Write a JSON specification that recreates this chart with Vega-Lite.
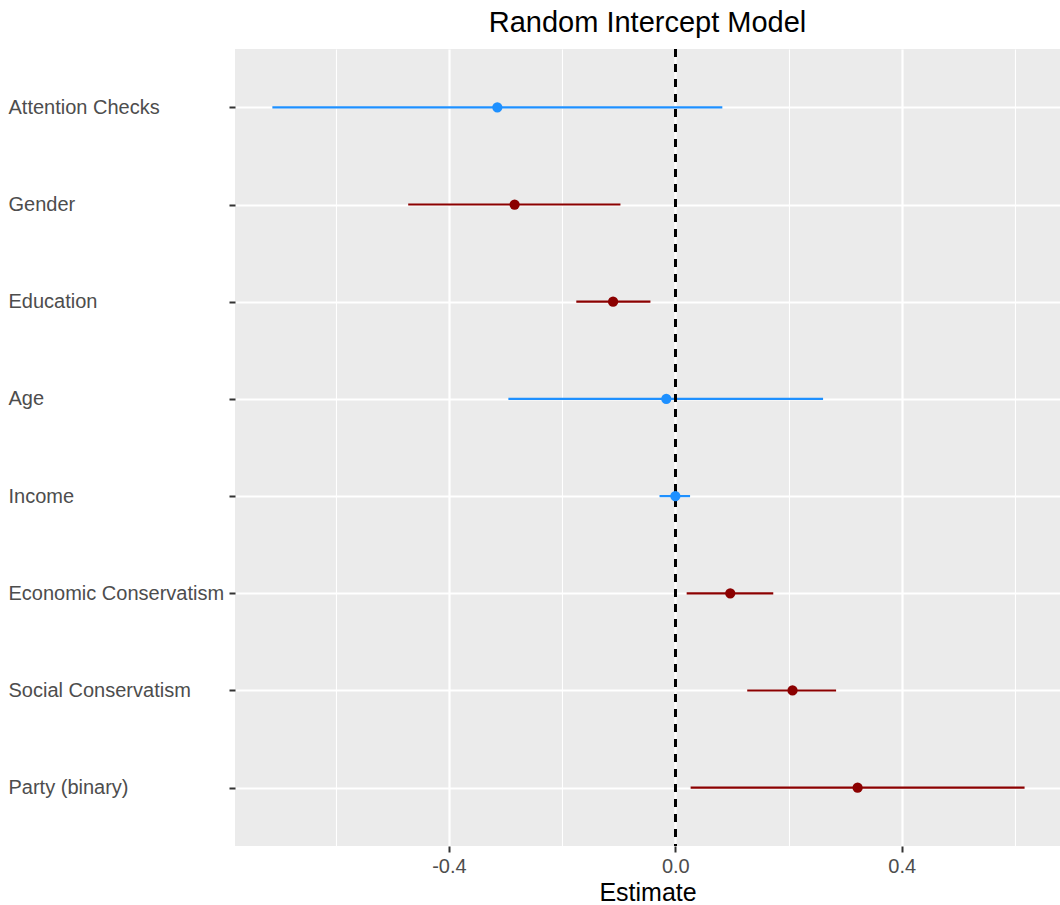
{
  "$schema": "https://vega.github.io/schema/vega-lite/v6.json",
  "width": 825,
  "height": 797,
  "autosize": {"type": "none"},
  "padding": {"left": 235, "top": 49, "right": 0, "bottom": 59},
  "background": "white",
  "title": {
    "text": "Random Intercept Model",
    "font": "Liberation Sans",
    "fontSize": 29,
    "fontWeight": "normal",
    "color": "black",
    "anchor": "middle",
    "offset": 10
  },
  "config": {
    "view": {"fill": "#EBEBEB", "stroke": null},
    "font": "Liberation Sans"
  },
  "data": {
    "values": [
      {"term": "Attention Checks", "estimate": -0.3145, "lo": -0.712, "hi": 0.083, "significant": "no"},
      {"term": "Gender", "estimate": -0.284, "lo": -0.472, "hi": -0.097, "significant": "yes"},
      {"term": "Education", "estimate": -0.110, "lo": -0.175, "hi": -0.044, "significant": "yes"},
      {"term": "Age", "estimate": -0.016, "lo": -0.295, "hi": 0.261, "significant": "no"},
      {"term": "Income", "estimate": 0.000, "lo": -0.028, "hi": 0.026, "significant": "no"},
      {"term": "Economic Conservatism", "estimate": 0.097, "lo": 0.020, "hi": 0.173, "significant": "yes"},
      {"term": "Social Conservatism", "estimate": 0.207, "lo": 0.127, "hi": 0.284, "significant": "yes"},
      {"term": "Party (binary)", "estimate": 0.322, "lo": 0.027, "hi": 0.617, "significant": "yes"}
    ]
  },
  "layer": [
    {
      "mark": {"type": "rule", "strokeWidth": 2.2},
      "encoding": {
        "y": {
          "field": "term", "type": "nominal", "sort": null,
          "scale": {"type": "point", "padding": 0.6},
          "axis": {
            "title": null,
            "domain": false,
            "grid": true,
            "gridColor": "white",
            "gridWidth": 2.2,
            "ticks": true,
            "tickSize": 6,
            "tickWidth": 2,
            "tickColor": "#333333",
            "labelAlign": "left",
            "labelPadding": 221,
            "labelFont": "Liberation Sans",
            "labelFontSize": 20,
            "labelColor": "#4D4D4D",
            "labelLimit": 0
          }
        },
        "x": {
          "field": "lo", "type": "quantitative",
          "scale": {"domain": [-0.778, 0.6796], "nice": false, "zero": false},
          "axis": {
            "title": "Estimate",
            "titleFont": "Liberation Sans",
            "titleFontSize": 25,
            "titleFontWeight": "normal",
            "titleColor": "black",
            "titlePadding": 4,
            "domain": false,
            "values": [-0.6, -0.4, -0.2, 0, 0.2, 0.4, 0.6],
            "labelExpr": "datum.value == -0.4 ? '-0.4' : (datum.value == 0 ? '0.0' : (datum.value == 0.4 ? '0.4' : ''))",
            "labelFont": "Liberation Sans",
            "labelFontSize": 20,
            "labelColor": "#4D4D4D",
            "labelPadding": 4,
            "grid": true,
            "gridColor": "white",
            "gridWidth": {"condition": {"test": "datum.value == -0.4 || datum.value == 0 || datum.value == 0.4", "value": 2.2}, "value": 1.1},
            "tickSize": 6,
            "tickWidth": 2,
            "tickColor": "#333333",
            "tickOpacity": {"condition": {"test": "datum.value == -0.4 || datum.value == 0 || datum.value == 0.4", "value": 1}, "value": 0}
          }
        },
        "x2": {"field": "hi"},
        "color": {
          "field": "significant", "type": "nominal",
          "scale": {"domain": ["no", "yes"], "range": ["#1E90FF", "#8B0000"]},
          "legend": null
        }
      }
    },
    {
      "mark": {"type": "rule", "color": "black", "strokeWidth": 2.2, "strokeDash": [8, 7]},
      "encoding": {"x": {"datum": 0}}
    },
    {
      "mark": {"type": "point", "filled": true, "opacity": 1, "size": 105},
      "encoding": {
        "y": {"field": "term", "type": "nominal", "sort": null},
        "x": {"field": "estimate", "type": "quantitative"},
        "color": {"field": "significant", "type": "nominal"}
      }
    }
  ]
}
